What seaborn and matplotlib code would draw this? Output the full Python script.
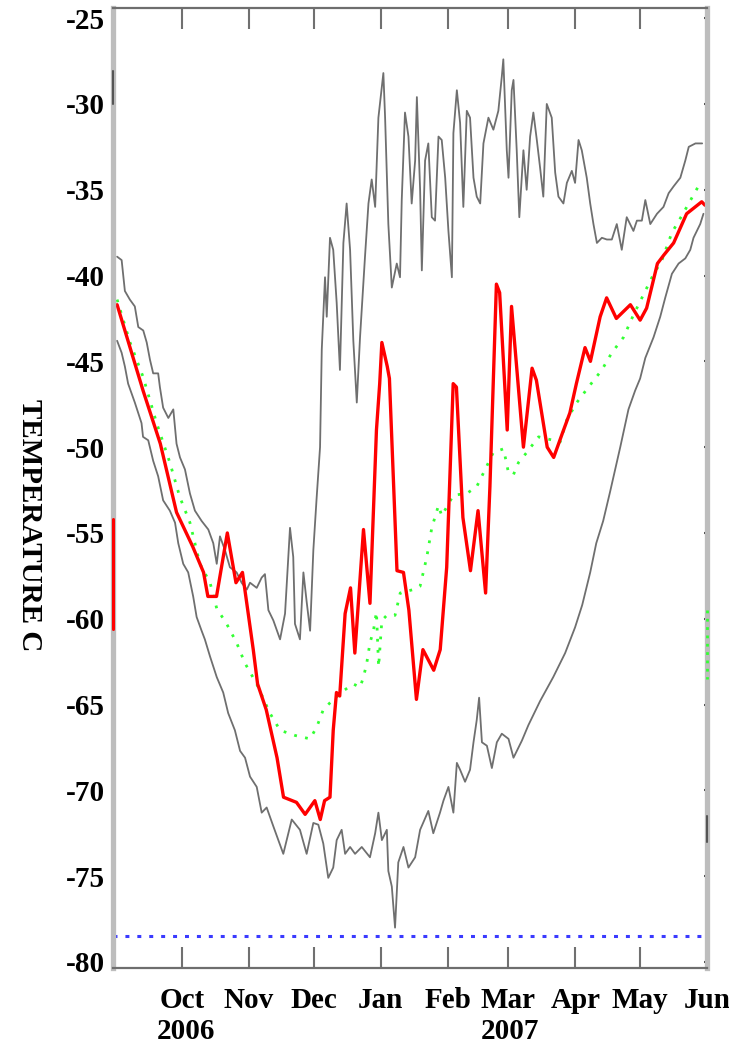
import numpy as np
import pandas as pd
import matplotlib
matplotlib.use("Agg")
import matplotlib.pyplot as plt
import seaborn as sns

# days counted from 1 Sep 2006
season_start = pd.Timestamp("2006-09-01")

# daily maximum (upper grey trace)
max_days = [0, 2.1, 3.6, 5.9, 8.2, 9.8, 12.1, 13.7, 15.2, 16.7, 19, 19.8, 21.3, 23.7, 26, 27.5, 29.1,
            31.4, 33.7, 36, 39.1, 42.2, 44.5, 46.1, 47.6, 49.9, 52.2, 55.3, 57.6, 60, 61.5, 64.6, 66.9,
            68.4, 70, 72.3, 75.4, 77.7, 80, 81.5, 82.3, 84.6, 86.2, 87.7, 89.3, 90.8, 92.3, 93.9, 94.7,
            96.2, 97, 98.5, 100, 101.6, 103.1, 104.7, 106.2, 107.8, 109.3, 110.9, 112.4, 114.7, 116.3,
            117.8, 119.4, 120.9, 123.2, 124, 125.5, 127.1, 129.4, 130.9, 131.7, 133.2, 134.8, 136.3,
            137.9, 138.7, 140.2, 141, 142.5, 144, 145.6, 147.1, 148.7, 150.2, 151.8, 153.3, 154.9,
            155.6, 157.2, 158.7, 160.2, 161.8, 163.3, 164.9, 166.4, 168, 169.5, 171.8, 174.1, 176.4,
            178, 178.7, 180.3, 181.1, 182.6, 183.4, 184.9, 186.1, 188, 189.5, 191.1, 192.6, 194.2,
            195.7, 197.2, 198.8, 201.1, 202.7, 204.2, 206.5, 208.1, 210.4, 211.9, 213.5, 215, 217.3,
            218.9, 220.4, 222, 224.3, 226.6, 228.9, 231.2, 233.5, 235.8, 238.9, 240.5, 242.8, 244.4,
            246.7, 249.8, 252.8, 255.2, 257.5, 260.6, 262.9, 264.5, 267.6, 270.7]
max_temp = [-38.9, -39.1, -40.9, -41.4, -41.8, -43.0, -43.2, -43.9, -44.9, -45.7, -45.7, -46.5, -47.7,
            -48.3, -47.8, -49.8, -50.6, -51.3, -52.7, -53.7, -54.3, -54.8, -55.6, -56.8, -55.2, -56.0,
            -57.0, -57.3, -57.9, -58.3, -57.9, -58.2, -57.6, -57.4, -59.5, -60.1, -61.2, -59.7, -54.7,
            -56.4, -60.3, -61.2, -57.3, -59.0, -60.7, -56.0, -53.0, -50.0, -44.3, -40.1, -42.4, -37.8,
            -38.5, -41.6, -45.5, -38.1, -35.8, -38.5, -43.8, -47.4, -43.6, -38.9, -35.8, -34.4, -36.0,
            -30.8, -28.2, -30.8, -37.0, -40.7, -39.3, -40.1, -35.6, -30.5, -31.9, -35.8, -33.3, -29.6,
            -35.0, -39.7, -33.3, -32.3, -36.6, -36.8, -31.9, -32.1, -34.3, -37.4, -40.1, -31.7, -29.2,
            -31.1, -36.0, -30.4, -30.8, -34.3, -35.4, -35.8, -32.3, -30.8, -31.5, -30.4, -28.4, -27.4,
            -32.7, -34.3, -29.2, -28.6, -32.7, -36.6, -32.7, -35.0, -31.9, -30.5, -32.1, -33.7, -35.4,
            -30.0, -30.8, -34.0, -35.4, -35.8, -34.6, -33.9, -34.6, -32.1, -32.7, -34.3, -35.8, -37.0,
            -38.1, -37.8, -37.9, -37.9, -37.0, -38.5, -36.6, -37.4, -36.8, -36.8, -35.6, -37.0, -36.4,
            -36.0, -35.2, -34.8, -34.3, -33.3, -32.5, -32.3, -32.3]

# daily minimum (lower grey trace)
min_days = [0, 2.1, 3.6, 5.1, 8.2, 11.3, 12, 14.4, 16.7, 19, 21.3, 24.4, 26.8, 28.3, 30.6, 32.9, 35.2,
            36.8, 39.1, 40.6, 43, 46.1, 49.1, 51.4, 54.5, 56.9, 59.2, 61.5, 64.6, 66.9, 69.2, 72.3,
            74.6, 76.9, 80.8, 84.6, 87.7, 90.8, 93.1, 95.4, 97.7, 100, 101.6, 103.9, 105.5, 107.8,
            110.1, 113.2, 117, 119.4, 120.9, 122.5, 124.8, 125.5, 127.1, 128.6, 130.1, 132.5, 134.8,
            137.9, 140.2, 144, 146.3, 149.4, 151, 153.3, 155.6, 157.2, 158.7, 161, 163.3, 164.9, 166.4,
            167.5, 168.8, 171.1, 173.4, 175.7, 178, 181.1, 183.4, 187.3, 190.3, 195.7, 201.8, 207.3,
            211.9, 215.2, 218.9, 221.7, 224.9, 228.1, 232.8, 236.6, 239.7, 242, 244.4, 248.2, 251.3,
            253.6, 256.7, 259.8, 262.9, 265.2, 266.7, 269.8, 271.3]
min_temp = [-43.8, -44.5, -45.3, -46.3, -47.4, -48.6, -49.4, -49.6, -50.8, -51.7, -53.1, -53.7, -54.4,
            -55.6, -56.8, -57.3, -58.7, -59.9, -60.7, -61.2, -62.2, -63.4, -64.3, -65.5, -66.5, -67.7,
            -68.1, -69.2, -69.8, -71.3, -71.0, -72.1, -72.9, -73.7, -71.7, -72.3, -73.7, -71.9, -72.0,
            -73.1, -75.1, -74.5, -72.9, -72.3, -73.7, -73.3, -73.7, -73.3, -73.9, -72.5, -71.3, -72.9,
            -72.3, -74.7, -75.6, -78.0, -74.2, -73.3, -74.5, -73.9, -72.3, -71.2, -72.5, -71.3, -70.6,
            -69.8, -71.3, -68.4, -68.8, -69.5, -68.8, -67.2, -65.9, -64.6, -67.2, -67.4, -68.7, -67.2,
            -66.7, -67.0, -68.1, -67.1, -66.2, -64.8, -63.4, -62.0, -60.5, -59.2, -57.3, -55.6, -54.3,
            -52.6, -50.0, -47.8, -46.7, -46.0, -44.8, -43.6, -42.4, -41.3, -39.9, -39.3, -39.0, -38.5,
            -37.8, -37.0, -36.4]

# daily mean, this season (red)
mean_days = [0, 12, 20, 27.5, 35, 40, 42, 46, 51, 55, 58, 63, 65, 69, 74, 77, 83, 87, 91.5, 94, 96,
             98.5, 100, 101.5, 103, 105.5, 108, 110, 114, 117, 120, 121.5, 122.5, 125, 126, 129.5,
             132.5, 135, 138.5, 141.5, 146.5, 149.5, 152.5, 155.5, 157, 160, 163.5, 167, 170.5, 172.5,
             175.5, 177, 180.5, 182.5, 188, 192, 194, 199, 202, 206, 209.5, 212.5, 216.5, 219, 223.5,
             226.5, 231, 237.5, 242, 245, 250, 253, 257.5, 263.5, 270.5, 272]
mean_temp = [-41.7, -46.7, -49.8, -53.8, -55.8, -57.3, -58.7, -58.7, -55.0, -57.9, -57.3, -61.8, -63.8,
             -65.3, -68.1, -70.4, -70.7, -71.4, -70.6, -71.7, -70.6, -70.4, -66.5, -64.3, -64.5, -59.7,
             -58.2, -62.0, -54.8, -59.1, -49.0, -46.3, -43.9, -45.3, -46.0, -57.2, -57.3, -59.5, -64.7,
             -61.8, -63.0, -61.8, -57.0, -46.3, -46.5, -54.1, -57.2, -53.7, -58.5, -52.3, -40.5, -41.0,
             -49.0, -41.8, -50.0, -45.4, -46.1, -50.0, -50.6, -49.2, -48.0, -46.3, -44.2, -45.0, -42.4,
             -41.3, -42.5, -41.7, -42.6, -41.9, -39.3, -38.8, -38.1, -36.4, -35.7, -35.9]

# reference mean (green dotted)
ref_days = [0, 6, 12, 18.3, 24.4, 29, 33.7, 38.3, 43, 46.1, 50.7, 55.3, 59.2, 64.6, 70.7, 75.4, 82.3,
            89.3, 92.4, 95.4, 98.5, 104.7, 109.3, 112.4, 114, 115.5, 117, 118.6, 120, 121, 122.5, 124.8,
            128.6, 131, 137, 140.2, 143.3, 145.6, 148.7, 150.2, 155.6, 161.8, 166.4, 170.3, 174.1,
            178.8, 181.1, 183.4, 185.7, 189.6, 195, 201.8, 205, 208.1, 212.7, 218.1, 224.3, 228.9,
            234.3, 238.9, 243.6, 247.5, 252.1, 256.7, 261.8, 266.7, 269.4]
ref_temp = [-41.4, -43.9, -45.9, -48.6, -50.9, -52.9, -54.4, -56.8, -57.9, -59.4, -60.3, -61.4, -62.6,
            -63.8, -65.5, -66.5, -66.8, -67.0, -66.3, -65.3, -64.9, -64.2, -63.8, -64.0, -63.4, -62.6,
            -61.4, -60.7, -59.6, -62.8, -60.1, -59.8, -59.8, -58.5, -58.3, -58.1, -56.4, -54.7, -53.4,
            -54.0, -52.8, -52.7, -52.3, -51.3, -50.3, -50.1, -51.5, -51.6, -50.9, -50.3, -49.4, -49.6,
            -49.7, -48.4, -47.4, -46.5, -45.5, -44.5, -43.6, -42.3, -41.1, -40.1, -39.1, -37.5, -36.4,
            -35.3, -34.7]

# short pieces of the traces that sit on the left / right frame edges
left_edge_mean = [-54.2, -60.6]
left_edge_max = [-28.1, -30.0]
right_edge_ref = [-59.5, -63.5]
right_edge_min = [-71.5, -73.0]

co2_frost = -78.5

month_ticks = pd.date_range("2006-10-01", "2007-06-01", freq="MS")
month_labels = ["Oct", "Nov", "Dec", "Jan", "Feb", "Mar", "Apr", "May", "Jun"]
year_labels = ["2006", "2007"]
year_pos = [pd.Timestamp("2006-10-03"), pd.Timestamp("2007-03-02")]
y_ticks = list(range(-80, -24, 5))


def to_dates(days):
    return season_start + pd.to_timedelta(np.asarray(days, dtype=float), unit="D")


sns.set_theme(style="white")
plt.rcParams["font.family"] = ["Liberation Serif", "DejaVu Serif"]
plt.rcParams["font.weight"] = "bold"
plt.rcParams["text.color"] = "black"

fig = plt.figure(figsize=(7.29, 10.47), dpi=100)
ax = fig.add_axes([0.155, 0.0755, 0.815, 0.917])

x_lo, x_hi = to_dates([-1.9])[0], to_dates([273.0])[0]

sns.lineplot(x=to_dates(max_days), y=max_temp, ax=ax, color="#6f6f6f", lw=1.3, estimator=None, sort=False)
sns.lineplot(x=to_dates(min_days), y=min_temp, ax=ax, color="#6f6f6f", lw=1.3, estimator=None, sort=False)
sns.lineplot(x=to_dates(ref_days), y=ref_temp, ax=ax, color="#33ff33", lw=2.0,
             linestyle=(0, (1, 3)), estimator=None, sort=False)
sns.lineplot(x=to_dates(mean_days), y=mean_temp, ax=ax, color="#ff0000", lw=2.4, estimator=None, sort=False)
ax.axhline(co2_frost, color="#3a3aff", lw=2.2, linestyle=(0, (1.3, 2.6)))

# edge fragments
ax.plot([x_lo, x_lo], left_edge_mean, color="#ff0000", lw=2.2, zorder=4, clip_on=False)
ax.plot([x_lo, x_lo], left_edge_max, color="#555555", lw=1.5, zorder=4, clip_on=False)
ax.plot([x_hi, x_hi], right_edge_ref, color="#33ff33", lw=2.0, linestyle=(0, (1, 2)), zorder=4, clip_on=False)
ax.plot([x_hi, x_hi], right_edge_min, color="#555555", lw=1.5, zorder=4, clip_on=False)

ax.set_xlim(x_lo, x_hi)
ax.set_ylim(-80.35, -24.4)
ax.set_xticks(month_ticks)
ax.set_xticklabels(month_labels)
ax.set_yticks(y_ticks)
ax.set_yticklabels([str(t) for t in y_ticks])
ax.set_xlabel("")
ax.set_ylabel("")

ax.tick_params(axis="x", direction="in", top=True, bottom=True, length=15, width=1.5,
               color="#707070", labelsize=21, pad=14, labelcolor="black")
ax.tick_params(axis="y", direction="in", left=True, right=True, length=2, width=1.5,
               color="#444444", labelsize=21, pad=6, labelcolor="black")

for side in ["left", "right"]:
    ax.spines[side].set_color("#bdbdbd")
    ax.spines[side].set_linewidth(3.8)
for side in ["top", "bottom"]:
    ax.spines[side].set_color("#6e6e6e")
    ax.spines[side].set_linewidth(1.6)

for lab, pos in zip(year_labels, year_pos):
    ax.text(pos, -0.066, lab, transform=ax.get_xaxis_transform(), ha="center", va="center",
            fontsize=21, fontweight="bold", color="black")

fig.text(0.041, 0.4986, "TEMPERATURE C", rotation=-90, ha="center", va="center",
         fontsize=21, fontweight="bold", color="black")

fig.savefig("out.png", dpi=100)
